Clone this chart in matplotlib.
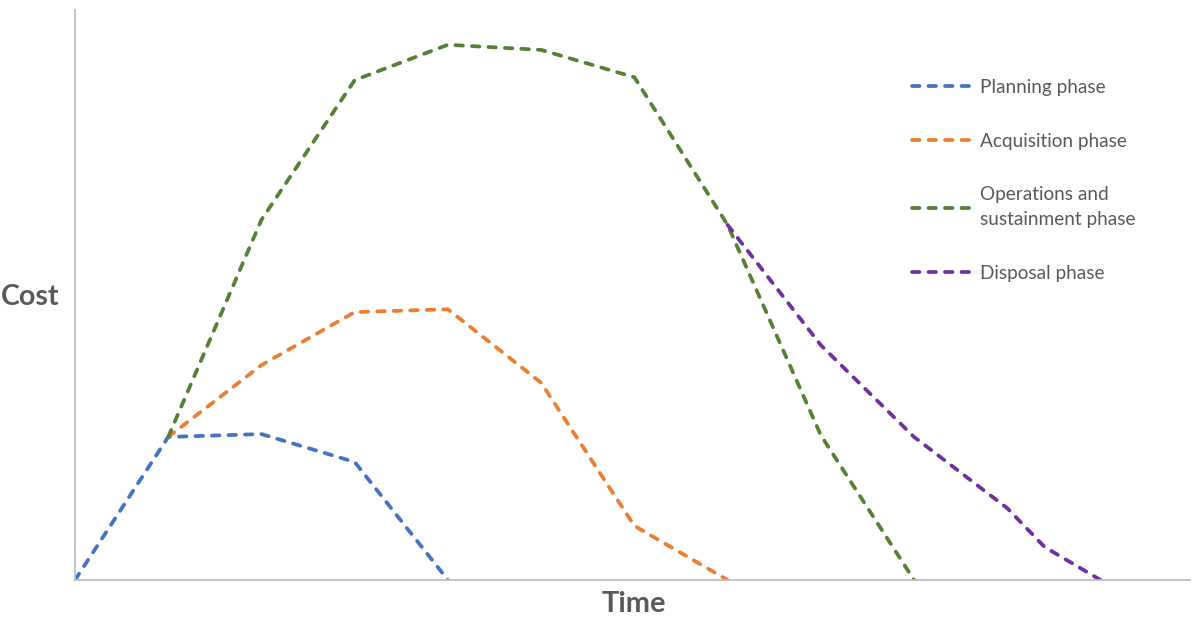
import matplotlib.pyplot as plt

# cost curves per life-cycle phase (x = time step, y = relative cost, 0-100)
planning_x = [0, 1, 2, 3, 4]
planning_y = [0, 25.1, 25.6, 20.7, 0]

acquisition_x = [1, 2, 3, 4, 5, 6, 7]
acquisition_y = [25.1, 37.7, 47.0, 47.5, 34.6, 9.5, 0]

operations_x = [1, 2, 3, 4, 5, 6, 7, 8, 9]
operations_y = [25.1, 63.2, 87.7, 93.9, 93.0, 88.2, 62.3, 25.4, 0]

disposal_x = [7, 8, 9, 10, 10.4, 11]
disposal_y = [62.3, 41.2, 25.1, 12.6, 5.8, 0]

series = [
    ("Planning phase", planning_x, planning_y, "#4472C4"),
    ("Acquisition phase", acquisition_x, acquisition_y, "#ED7D31"),
    ("Operations and\nsustainment phase", operations_x, operations_y, "#548235"),
    ("Disposal phase", disposal_x, disposal_y, "#7030A0"),
]

plt.rcParams['font.family'] = ['Lato', 'DejaVu Sans']

fig = plt.figure(figsize=(12.04, 6.22), dpi=100)
ax = fig.add_axes([75 / 1204, 42 / 622, 1115 / 1204, 570 / 622])

for label, xs, ys, col in series:
    ax.plot(xs, ys, color=col, lw=2.7, linestyle=(0, (2.0, 2.4)),
            dash_capstyle='round', label=label)

ax.set_xlim(0, 11.96)
ax.set_ylim(0, 100)
ax.set_xticks([])
ax.set_yticks([])
for s in ['top', 'right']:
    ax.spines[s].set_visible(False)
for s in ['left', 'bottom']:
    ax.spines[s].set_color('#BFBFBF')
    ax.spines[s].set_linewidth(1.3)

fig.text(30 / 1204, 1 - 297 / 622, "Cost", ha='center', va='center',
         fontsize=20.5, fontweight='bold', color='#595959')
fig.text(634 / 1204, 1 - 604 / 622, "Time", ha='center', va='center',
         fontsize=21, fontweight='bold', color='#595959')

leg = ax.legend(loc='upper left', bbox_to_anchor=(912 / 1204, 1 - 79 / 622),
                bbox_transform=fig.transFigure, frameon=False, fontsize=13.7,
                handlelength=3.2, handletextpad=0.35, labelspacing=1.92,
                borderpad=0, borderaxespad=0)
for t in leg.get_texts():
    t.set_color('#595959')
    t.set_linespacing(1.6)

fig.savefig("out.png", dpi=100)
